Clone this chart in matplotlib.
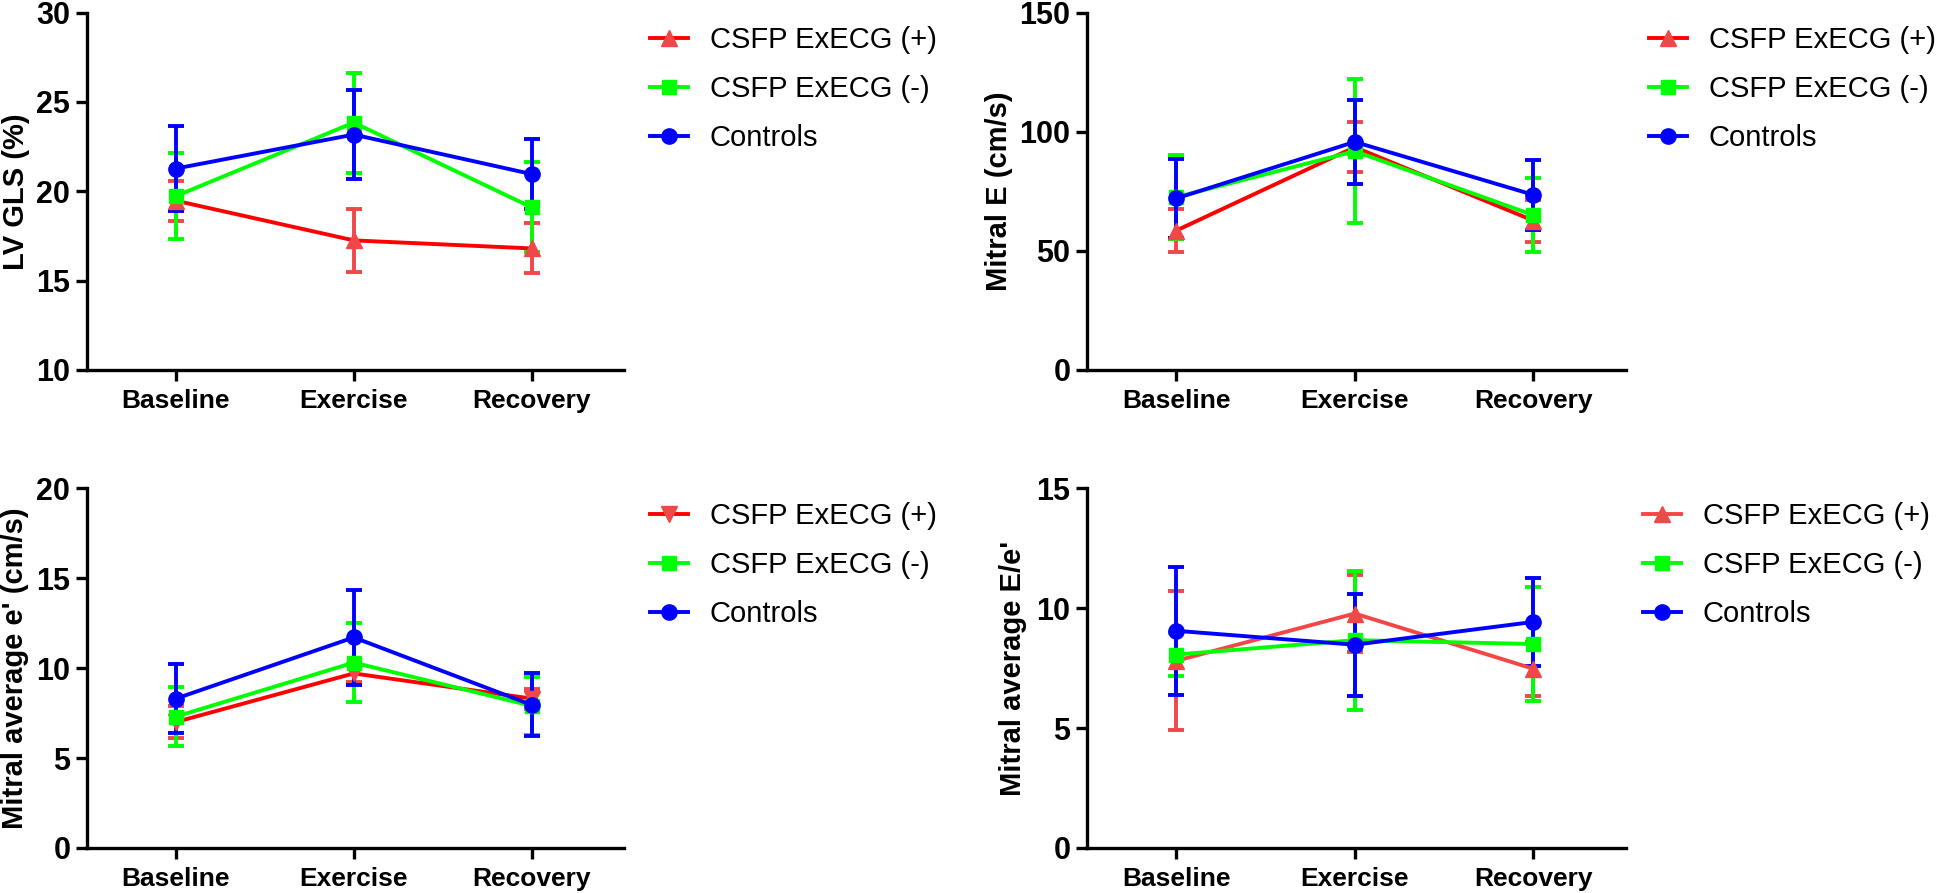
import matplotlib
matplotlib.use("Agg")
import matplotlib.pyplot as plt

plt.rcParams["font.family"] = ["Liberation Sans", "DejaVu Sans"]

# --- Data (mean and SD) ---
phases = ["Baseline", "Exercise", "Recovery"]
groups = ["CSFP ExECG (+)", "CSFP ExECG (-)", "Controls"]

gls_pos_mean = [19.47, 17.25, 16.8]
gls_pos_sd = [1.13, 1.78, 1.4]
gls_neg_mean = [19.73, 23.84, 19.1]
gls_neg_sd = [2.43, 2.8, 2.52]
gls_ctl_mean = [21.27, 23.17, 20.96]
gls_ctl_sd = [2.38, 2.5, 1.97]

e_pos_mean = [58.5, 93.5, 62.7]
e_pos_sd = [9.1, 10.4, 8.8]
e_neg_mean = [72.5, 91.8, 65.0]
e_neg_sd = [17.5, 30.2, 15.6]
e_ctl_mean = [72.0, 95.7, 73.5]
e_ctl_sd = [16.6, 17.6, 14.7]

ep_pos_mean = [7.0, 9.7, 8.3]
ep_pos_sd = [0.9, 0.5, 0.55]
ep_neg_mean = [7.3, 10.3, 7.9]
ep_neg_sd = [1.65, 2.2, 1.6]
ep_ctl_mean = [8.3, 11.7, 7.95]
ep_ctl_sd = [1.93, 2.66, 1.75]

ee_pos_mean = [7.8, 9.77, 7.47]
ee_pos_sd = [2.9, 1.6, 1.12]
ee_neg_mean = [8.06, 8.66, 8.5]
ee_neg_sd = [0.9, 2.9, 2.38]
ee_ctl_mean = [9.05, 8.47, 9.42]
ee_ctl_sd = [2.66, 2.12, 1.84]

RED_LINE = "#ff0000"
RED_MARK = "#f04848"
GREEN = "#00ff00"
BLUE = "#0000ff"

panels = [
    dict(rect=[0.0447, 0.5857, 0.276, 0.4003], ylabel="LV GLS (%)", label_x=-0.106,
         ylim=(10, 30), yticks=[10, 15, 20, 25, 30],
         series=[(gls_pos_mean, gls_pos_sd), (gls_neg_mean, gls_neg_sd), (gls_ctl_mean, gls_ctl_sd)],
         red_marker="^", red_line=RED_LINE, legend_xy=(650, 26)),
    dict(rect=[0.5586, 0.5857, 0.277, 0.4003], ylabel="Mitral E (cm/s)", label_x=-0.137,
         ylim=(0, 150), yticks=[0, 50, 100, 150],
         series=[(e_pos_mean, e_pos_sd), (e_neg_mean, e_neg_sd), (e_ctl_mean, e_ctl_sd)],
         red_marker="^", red_line=RED_LINE, legend_xy=(1649, 26)),
    dict(rect=[0.0447, 0.0504, 0.276, 0.4031], ylabel="Mitral average e' (cm/s)", label_x=-0.108,
         ylim=(0, 20), yticks=[0, 5, 10, 15, 20],
         series=[(ep_pos_mean, ep_pos_sd), (ep_neg_mean, ep_neg_sd), (ep_ctl_mean, ep_ctl_sd)],
         red_marker="v", red_line=RED_LINE, legend_xy=(650, 502)),
    dict(rect=[0.5586, 0.0504, 0.277, 0.4031], ylabel="Mitral average E/e'", label_x=-0.111,
         ylim=(0, 15), yticks=[0, 5, 10, 15],
         series=[(ee_pos_mean, ee_pos_sd), (ee_neg_mean, ee_neg_sd), (ee_ctl_mean, ee_ctl_sd)],
         red_marker="^", red_line="#f54646", legend_xy=(1643, 502)),
]

W, H = 1946, 893
fig = plt.figure(figsize=(W / 100, H / 100), dpi=100)
x = list(range(len(phases)))

for p in panels:
    ax = fig.add_axes(p["rect"])
    styles = [
        (p["red_line"], RED_MARK, p["red_marker"], 11),
        (GREEN, GREEN, "s", 9.5),
        (BLUE, BLUE, "o", 11),
    ]
    handles = []
    for (mean, sd), (lc, mc, mk, ms), name in zip(p["series"], styles, groups):
        ax.errorbar(x, mean, yerr=sd, fmt="none", ecolor=mc, elinewidth=2.8,
                    capsize=5.5, capthick=2.8, zorder=2)
        h, = ax.plot(x, mean, color=lc, lw=2.8, marker=mk, ms=ms,
                     mfc=mc, mec=mc, label=name, zorder=3)
        handles.append(h)

    ax.set_xlim(-0.5, 2.52)
    ax.set_ylim(*p["ylim"])
    ax.set_yticks(p["yticks"])
    ax.set_xticks(x)
    ax.set_xticklabels(phases)
    ax.spines["top"].set_visible(False)
    ax.spines["right"].set_visible(False)
    for s in ("left", "bottom"):
        ax.spines[s].set_linewidth(2.4)
    ax.tick_params(width=2.4, length=8, pad=6)
    ax.tick_params(axis="x", labelsize=19)
    ax.tick_params(axis="y", labelsize=22, pad=4)
    for lab in ax.get_xticklabels() + ax.get_yticklabels():
        lab.set_fontweight("bold")
    ax.set_ylabel(p["ylabel"], fontsize=21, fontweight="bold")
    ax.yaxis.set_label_coords(p["label_x"], 0.5)

    lx, ly = p["legend_xy"]
    fig.legend(handles=handles, loc="upper left",
               bbox_to_anchor=(lx / W, 1 - ly / H), bbox_transform=fig.transFigure,
               frameon=False, fontsize=21, handlelength=1.3, handletextpad=0.75,
               labelspacing=0.72, borderpad=0, borderaxespad=0)

fig.savefig("out.png", dpi=100)
